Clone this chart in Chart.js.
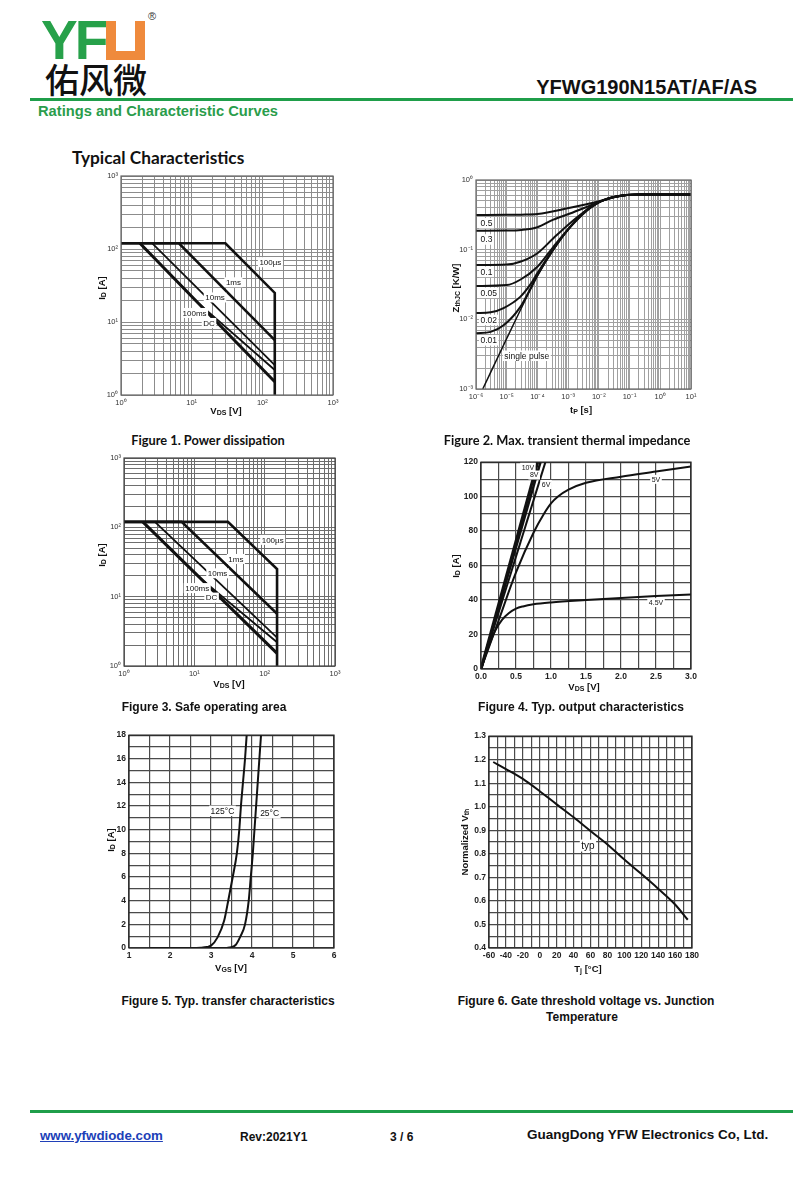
<!DOCTYPE html>
<html>
<head>
<meta charset="utf-8">
<script src="https://cdn.jsdelivr.net/npm/chart.js@4.4.1/dist/chart.umd.min.js"></script>
<style>
  body { margin: 0; background: #fff; }
  #page { position: relative; width: 800px; height: 1177px; overflow: hidden; font-family: "Liberation Sans", Arial, sans-serif; color: #111; }
  .t { position: absolute; white-space: nowrap; }
  .c { transform: translate(-50%, -50%); }
  .r { transform: translate(-50%, -50%) rotate(-90deg); }
  .ax { font-weight: bold; font-size: 9.5px; }
  .ax sub { font-size: 7px; vertical-align: -1px; }
  .cap { font-weight: bold; font-size: 12px; }
  .cal { font-family: Lato, "Open Sans", sans-serif; font-weight: bold; font-size: 12.8px; }
  .box { position: absolute; }
  .bar { position: absolute; left: 30px; width: 763px; height: 3px; background: #1f9e4a; }
</style>
</head>
<body>
<div id="page">
  <!-- header -->
  <div class="t" style="left:41px;top:13px;font:bold 55px/55px 'Liberation Sans';color:#27a14a;letter-spacing:-3px;">YF</div>
  <div class="box" style="left:106px;top:21px;width:39px;height:39px;background:#ef8a3c;">
    <div style="position:absolute;left:10px;top:0;width:19px;height:30px;background:#fff;"></div>
  </div>
  <div class="t" style="left:148px;top:10px;font-size:11px;color:#333;">®</div>
  <div class="t" style="left:45px;top:61px;font:500 34px/36px 'Noto Sans CJK SC';color:#111;">佑风微</div>
  <div class="t" style="right:43px;top:76px;font:bold 20px/22px 'Liberation Sans';color:#111;">YFWG190N15AT/AF/AS</div>
  <div class="bar" style="top:98px;"></div>
  <div class="t" style="left:38px;top:103px;font:bold 14.7px/17px 'Liberation Sans';color:#2a9d4b;">Ratings and Characteristic Curves</div>
  <div class="t" style="left:72px;top:147px;font:bold 17.3px/22px Lato,'Open Sans',sans-serif;color:#111;">Typical Characteristics</div>

  <!-- chart boxes -->
  <div class="box" id="f1"><canvas></canvas></div>
  <div class="box" id="f2"><canvas></canvas></div>
  <div class="box" id="f3"><canvas></canvas></div>
  <div class="box" id="f4"><canvas></canvas></div>
  <div class="box" id="f5"><canvas></canvas></div>
  <div class="box" id="f6"><canvas></canvas></div>

  <!-- axis titles -->
  <div class="t c ax" style="left:226px;top:410px;">V<sub>DS</sub> [V]</div>
  <div class="t r ax" style="left:101px;top:288px;">I<sub>D</sub> [A]</div>
  <div class="t c ax" style="left:581px;top:409px;">t<sub>P</sub> [s]</div>
  <div class="t r ax" style="left:455px;top:288px;">Z<sub>thJC</sub> [K/W]</div>
  <div class="t c ax" style="left:229px;top:683px;">V<sub>DS</sub> [V]</div>
  <div class="t r ax" style="left:101px;top:555px;">I<sub>D</sub> [A]</div>
  <div class="t c ax" style="left:584px;top:686px;">V<sub>DS</sub> [V]</div>
  <div class="t r ax" style="left:455px;top:566px;">I<sub>D</sub> [A]</div>
  <div class="t c ax" style="left:231px;top:967px;">V<sub>GS</sub> [V]</div>
  <div class="t r ax" style="left:110px;top:840px;">I<sub>D</sub> [A]</div>
  <div class="t c ax" style="left:588px;top:968px;">T<sub>j</sub> [°C]</div>
  <div class="t r ax" style="left:464px;top:842px;">Normalized V<sub>th</sub></div>

  <!-- captions -->
  <div class="t c cal" style="left:208px;top:440px;">Figure 1. Power dissipation</div>
  <div class="t c cal" style="left:567px;top:440px;">Figure 2. Max. transient thermal impedance</div>
  <div class="t c cap" style="left:204px;top:707px;">Figure 3. Safe operating area</div>
  <div class="t c cap" style="left:581px;top:707px;">Figure 4. Typ. output characteristics</div>
  <div class="t c cap" style="left:228px;top:1001px;">Figure 5. Typ. transfer characteristics</div>
  <div class="t c cap" style="left:586px;top:1001px;">Figure 6. Gate threshold voltage vs. Junction</div>
  <div class="t c cap" style="left:582px;top:1017px;">Temperature</div>

  <!-- footer -->
  <div class="bar" style="top:1110px;"></div>
  <div class="t" style="left:40px;top:1128px;font:bold 13.3px/16px 'Liberation Sans';color:#2040b8;text-decoration:underline;">www.yfwdiode.com</div>
  <div class="t" style="left:240px;top:1129px;font:bold 12px/16px 'Liberation Sans';">Rev:2021Y1</div>
  <div class="t" style="left:390px;top:1129px;font:bold 12px/16px 'Liberation Sans';">3 / 6</div>
  <div class="t" style="left:527px;top:1127px;font:bold 13.5px/16px 'Liberation Sans';">GuangDong YFW Electronics Co, Ltd.</div>
</div>

<script>
Chart.defaults.font.family = "'Liberation Sans', Arial, sans-serif";
Chart.defaults.color = '#222';
Chart.defaults.animation = false;

// Fig 1 and Fig 3: safe operating area (same curves in both)
const soaXLabels = ['10⁰', '10¹', '10²', '10³'];
const soaYLabels = ['10⁰', '10¹', '10²', '10³'];
const soa100usV = [1, 30, 150, 150];
const soa100usI = [120, 120, 25, 1];
const soa1msV = [1, 6.6, 150];
const soa1msI = [120, 120, 5.66];
const soa10msV = [2.75, 150];
const soa10msI = [120, 2.57];
const soa100msV = [1.85, 12, 150];
const soa100msI = [120, 18.7, 2.2];
const soaDcV = [1.85, 150];
const soaDcI = [120, 1.52];
const soaTags = ['100µs', '1ms', '10ms', '100ms', 'DC'];
const soaTagV = [130, 39, 21.4, 11, 17.6];
const soaTagI = [66, 35, 21.7, 13.3, 9.7];

// Fig 2: transient thermal impedance
const zthXLabels = ['10⁻⁶', '10⁻⁵', '10⁻⁴', '10⁻³', '10⁻²', '10⁻¹', '10⁰', '10¹'];
const zthYLabels = ['10⁻³', '10⁻²', '10⁻¹', '10⁰'];
const zthSpT = [1.66e-6, 1e-5, 6e-5, 1e-4, 3.3e-4, 1.15e-3, 4e-3, 1.1e-2, 3e-2, 8e-2, 0.2, 10];
const zthSpZ = [0.001, 0.0053, 0.027, 0.042, 0.10, 0.21, 0.37, 0.49, 0.57, 0.61, 0.62, 0.62];
const zthD50T = [1e-6, 1e-5, 3e-5, 1e-4, 1.15e-3, 4e-3, 1.1e-2, 3e-2, 8e-2, 0.2, 10];
const zthD50Z = [0.315, 0.316, 0.318, 0.325, 0.40, 0.45, 0.50, 0.57, 0.61, 0.62, 0.62];
const zthD30T = [1e-6, 1e-5, 3e-5, 1e-4, 3.3e-4, 1.15e-3, 4e-3, 1.1e-2, 3e-2, 8e-2, 0.2, 10];
const zthD30Z = [0.187, 0.188, 0.192, 0.21, 0.27, 0.33, 0.41, 0.49, 0.565, 0.61, 0.62, 0.62];
const zthD10T = [1e-6, 1e-5, 2.75e-5, 1e-4, 3.3e-4, 1.15e-3, 4e-3, 1.1e-2, 3e-2, 8e-2, 0.2, 10];
const zthD10Z = [0.060, 0.061, 0.067, 0.089, 0.146, 0.24, 0.37, 0.49, 0.565, 0.61, 0.62, 0.62];
const zthD05T = [1e-6, 1e-5, 2.75e-5, 1e-4, 3.3e-4, 1.15e-3, 4e-3, 1.1e-2, 3e-2, 8e-2, 0.2, 10];
const zthD05Z = [0.030, 0.031, 0.037, 0.057, 0.11, 0.21, 0.36, 0.49, 0.565, 0.61, 0.62, 0.62];
const zthD02T = [1e-6, 3e-6, 7.9e-6, 2.75e-5, 6e-5, 1e-4, 3.3e-4, 1.15e-3, 4e-3, 1.1e-2, 3e-2, 8e-2, 0.2, 10];
const zthD02Z = [0.0123, 0.0126, 0.0145, 0.021, 0.032, 0.046, 0.102, 0.21, 0.37, 0.49, 0.57, 0.61, 0.62, 0.62];
const zthD01T = [1e-6, 3e-6, 7.9e-6, 2.75e-5, 6e-5, 1e-4, 3.3e-4, 1.15e-3, 4e-3, 1.1e-2, 3e-2, 8e-2, 0.2, 10];
const zthD01Z = [0.0063, 0.0066, 0.0082, 0.015, 0.028, 0.043, 0.10, 0.21, 0.37, 0.49, 0.57, 0.61, 0.62, 0.62];
const zthTags = ['0.5', '0.3', '0.1', '0.05', '0.02', '0.01', 'single pulse'];
const zthTagT = [2.2e-6, 2.2e-6, 2.2e-6, 2.6e-6, 2.6e-6, 2.6e-6, 4.5e-5];
const zthTagZ = [0.24, 0.14, 0.048, 0.024, 0.0098, 0.005, 0.003];

// Fig 4: output characteristics
const out10vV = [0, 0.81];
const out10vI = [0, 120];
const out8vV = [0, 0.85];
const out8vI = [0, 120];
const out6vV = [0, 0.92];
const out6vI = [0, 120];
const out5vV = [0, 0.25, 0.5, 0.75, 0.9, 1.0, 1.1, 1.25, 1.5, 2.0, 2.5, 3.0];
const out5vI = [0, 28, 56, 79, 90, 96, 100, 104, 108, 111.5, 114.5, 117.5];
const out45vV = [0, 0.1, 0.2, 0.3, 0.4, 0.5, 0.6, 0.75, 1.0, 1.5, 2.0, 2.5, 3.0];
const out45vI = [0, 12, 22, 28.5, 32.5, 35, 36.3, 37.5, 38.6, 40, 41.2, 42.3, 43.2];
const outTags = ['10V', '8V', '6V', '5V', '4.5V'];
const outTagV = [0.67, 0.76, 0.93, 2.5, 2.5];
const outTagI = [117, 112.5, 107, 110, 38.5];

// Fig 5: transfer characteristics
const tr125V = [1.5, 2.5, 2.75, 2.9, 3.0, 3.16, 3.32, 3.42, 3.53, 3.63, 3.69, 3.73, 3.78, 3.83, 3.87];
const tr125I = [0, 0, 0.02, 0.08, 0.2, 0.9, 2.3, 4, 6, 8, 10, 12, 14, 16, 18];
const tr25V = [1.5, 3.3, 3.45, 3.6, 3.72, 3.83, 3.92, 3.97, 4.02, 4.06, 4.1, 4.14, 4.18, 4.22];
const tr25I = [0, 0, 0.05, 0.25, 1.0, 2.0, 4, 6, 8, 10, 12, 14, 16, 18];
const trTags = ['125°C', '25°C'];
const trTagV = [3.28, 4.43];
const trTagI = [11.6, 11.4];

// Fig 6: normalized threshold voltage
const vthT = [-55, -40, -20, 0, 20, 40, 60, 80, 100, 120, 140, 160, 175];
const vthN = [1.19, 1.16, 1.118, 1.066, 1.01, 0.955, 0.897, 0.84, 0.776, 0.715, 0.652, 0.585, 0.52];
const vthTags = ['typ'];
const vthTagT = [57];
const vthTagN = [0.835];

// draws the frame round the plot area
const framePlugin = {
  id: 'frame',
  afterDatasetsDraw(chart, args, opts) {
    const a = chart.chartArea, ctx = chart.ctx;
    ctx.save();
    ctx.strokeStyle = opts.color || '#222';
    ctx.lineWidth = opts.width || 1.5;
    ctx.strokeRect(a.left, a.top, a.right - a.left, a.bottom - a.top);
    ctx.restore();
  }
};

// curve labels on a white patch, placed in data units
const tagPlugin = {
  id: 'tags',
  afterDatasetsDraw(chart, args, opts) {
    if (!opts.text) return;
    const ctx = chart.ctx, xs = chart.scales.x, ys = chart.scales.y;
    ctx.save();
    ctx.font = (opts.bold ? 'bold ' : '') + opts.size + "px 'Liberation Sans', Arial, sans-serif";
    ctx.textAlign = 'center';
    ctx.textBaseline = 'middle';
    opts.text.forEach(function (txt, i) {
      const px = xs.getPixelForValue(opts.x[i]);
      const py = ys.getPixelForValue(opts.y[i]);
      const w = ctx.measureText(txt).width + 3;
      const h = opts.size + 2;
      ctx.fillStyle = '#fff';
      ctx.fillRect(px - w / 2, py - h / 2, w, h);
      ctx.fillStyle = '#111';
      ctx.fillText(txt, px, py + 0.5);
    });
    ctx.restore();
  }
};
Chart.register(framePlugin, tagPlugin);

function pts(xs, ys) {
  return xs.map((x, i) => ({ x: x, y: ys[i] }));
}

function line(xs, ys, w, smooth) {
  return {
    data: pts(xs, ys),
    borderColor: '#111',
    borderWidth: w,
    showLine: true,
    pointRadius: 0,
    tension: smooth ? 0.4 : 0,
    cubicInterpolationMode: smooth ? 'monotone' : 'default'
  };
}

function logAxis(minExp, maxExp, labels, gridColor, fontSize) {
  return {
    type: 'logarithmic',
    min: Math.pow(10, minExp),
    max: Math.pow(10, maxExp),
    afterBuildTicks: function (s) {
      const t = [];
      for (let e = minExp; e < maxExp; e++) {
        for (let m = 1; m < 10; m++) t.push({ value: m * Math.pow(10, e) });
      }
      t.push({ value: Math.pow(10, maxExp) });
      s.ticks = t;
    },
    ticks: {
      autoSkip: false, maxRotation: 0, padding: 3,
      font: { size: fontSize }, color: '#333',
      callback: function (v) {
        const e = Math.log10(v);
        return Math.abs(e - Math.round(e)) < 1e-6 ? labels[Math.round(e) - minExp] : '';
      }
    },
    grid: { color: gridColor, lineWidth: 1, drawTicks: false },
    border: { display: false }
  };
}

function linAxis(min, max, step, every, digits) {
  return {
    type: 'linear', min: min, max: max,
    ticks: {
      stepSize: step, autoSkip: false, maxRotation: 0, padding: 3,
      font: { size: 8.5, weight: 'bold' }, color: '#222',
      callback: function (v) {
        const k = Math.round((v - min) / step);
        return k % every === 0 ? v.toFixed(digits) : '';
      }
    },
    grid: { color: '#4a4a4a', lineWidth: 1.2, drawTicks: false },
    border: { display: false }
  };
}

// area = [left, top, right, bottom] of the plot in page pixels
function makeChart(id, area, yw, xh, xAxis, yAxis, datasets, tags, frameColor) {
  const pt = 8, pr = 14;
  const box = document.getElementById(id);
  box.style.left = (area[0] - yw) + 'px';
  box.style.top = (area[1] - pt) + 'px';
  box.style.width = (area[2] - area[0] + yw + pr) + 'px';
  box.style.height = (area[3] - area[1] + pt + xh) + 'px';
  xAxis.afterFit = function (s) { s.height = xh; };
  yAxis.afterFit = function (s) { s.width = yw; };
  new Chart(box.querySelector('canvas'), {
    type: 'scatter',
    data: { datasets: datasets },
    options: {
      responsive: true,
      maintainAspectRatio: false,
      animation: false,
      layout: { padding: { left: 0, top: pt, right: pr, bottom: 0 } },
      scales: { x: xAxis, y: yAxis },
      plugins: {
        legend: { display: false },
        tooltip: { enabled: false },
        frame: { color: frameColor, width: 1.2 },
        tags: tags
      }
    }
  });
}

function soaSets() {
  return [
    line(soa100usV, soa100usI, 2.6, false),
    line(soa1msV, soa1msI, 2.6, false),
    line(soa10msV, soa10msI, 1.8, false),
    line(soa100msV, soa100msI, 1.8, false),
    line(soaDcV, soaDcI, 3, false)
  ];
}

makeChart('f1', [121, 176, 333, 395], 18, 14,
  logAxis(0, 3, soaXLabels, '#8c8c8c', 7.5), logAxis(0, 3, soaYLabels, '#8c8c8c', 7.5),
  soaSets(), { text: soaTags, x: soaTagV, y: soaTagI, size: 8 }, '#666');

makeChart('f2', [476, 180, 691, 389], 22, 14,
  logAxis(-6, 1, zthXLabels, '#a0a0a0', 7.5), logAxis(-3, 0, zthYLabels, '#a0a0a0', 7.5),
  [
    line(zthSpT, zthSpZ, 1.5, true),
    line(zthD50T, zthD50Z, 2, true),
    line(zthD30T, zthD30Z, 2, true),
    line(zthD10T, zthD10Z, 2, true),
    line(zthD05T, zthD05Z, 2, true),
    line(zthD02T, zthD02Z, 2, true),
    line(zthD01T, zthD01Z, 2, true)
  ],
  { text: zthTags, x: zthTagT, y: zthTagZ, size: 8.5 }, '#666');

makeChart('f3', [124, 458, 335, 666], 18, 14,
  logAxis(0, 3, soaXLabels, '#6e6e6e', 7.5), logAxis(0, 3, soaYLabels, '#6e6e6e', 7.5),
  soaSets(), { text: soaTags, x: soaTagV, y: soaTagI, size: 8 }, '#444');

makeChart('f4', [481, 462, 691, 669], 20, 14,
  linAxis(0, 3, 0.25, 2, 1), linAxis(0, 120, 10, 2, 0),
  [
    line(out10vV, out10vI, 3, false),
    line(out8vV, out8vI, 2.5, false),
    line(out6vV, out6vI, 2, false),
    line(out5vV, out5vI, 2, true),
    line(out45vV, out45vI, 2, true)
  ],
  { text: outTags, x: outTagV, y: outTagI, size: 7 }, '#222');

makeChart('f5', [129, 735, 334, 948], 16, 14,
  linAxis(1, 6, 0.5, 2, 0), linAxis(0, 18, 1, 2, 0),
  [
    line(tr125V, tr125I, 2, true),
    line(tr25V, tr25I, 2, true)
  ],
  { text: trTags, x: trTagV, y: trTagI, size: 8.5 }, '#222');

makeChart('f6', [489, 736, 692, 948], 18, 14,
  linAxis(-60, 180, 10, 2, 0), linAxis(0.4, 1.3, 0.05, 2, 1),
  [line(vthT, vthN, 2, true)],
  { text: vthTags, x: vthTagT, y: vthTagN, size: 10 }, '#222');
</script>
</body>
</html>
